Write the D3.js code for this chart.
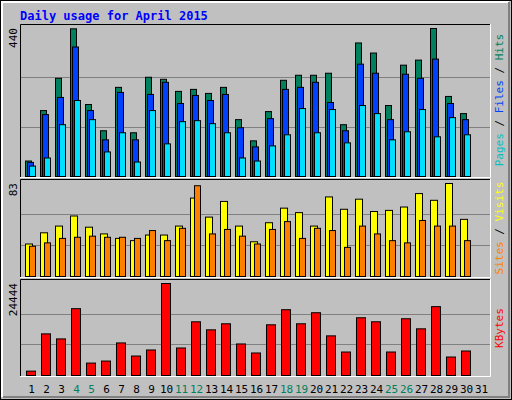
<!DOCTYPE html>
<html><head><meta charset="utf-8">
<script src="https://cdn.jsdelivr.net/npm/d3@7"></script>
<style>body{margin:0;background:#fff}svg text{font-family:"DejaVu Sans Mono",monospace}</style>
</head><body><svg id="c" width="512" height="400"></svg>
<script>
const days = d3.range(1, 32);
const weekend = [4, 5, 11, 12, 18, 19, 25, 26];
const hits = [46,196,292,439,214,136,265,130,295,289,253,259,247,265,169,106,193,286,301,301,307,154,397,367,211,331,346,440,238,187];
const files = [42,184,235,385,196,109,250,109,244,280,217,241,226,244,145,88,172,259,265,280,220,136,334,307,169,304,292,349,217,169];
const pages = [31,55,154,226,169,73,130,43,196,97,163,166,157,130,55,46,91,124,202,130,199,100,211,187,109,133,199,118,175,124];
const visits = [29,39,45,54,44,38,34,32,37,37,45,70,53,67,45,31,48,61,57,45,71,60,69,58,59,62,74,68,83,51];
const sites = [27,30,34,35,36,35,35,34,41,32,43,81,38,42,36,29,42,49,34,43,41,26,45,38,32,30,50,45,45,32];
const kbytes = [1160,11060,9720,17750,3300,3840,8650,5170,6780,24444,7310,14270,12130,13740,8380,5980,13470,17480,13740,16680,10530,6240,15340,14270,6240,15080,12400,18290,4910,6510];

const svg = d3.select('#c');
// frame with bevel
svg.append('rect').attr('x',0.5).attr('y',0.5).attr('width',511).attr('height',399).attr('fill','#c0c0c0').attr('stroke','#000');
svg.append('path').attr('d','M2,397V2H509').attr('stroke','#fff').attr('stroke-width',2).attr('fill','none');
svg.append('path').attr('d','M3,397H509V2').attr('stroke','#808080').attr('stroke-width',2).attr('fill','none');

svg.append('text').attr('x',20).attr('y',20).attr('fill','#0000ff').attr('font-size',12).attr('font-weight','bold')
  .text('Daily usage for April 2015');

const x = d3.scaleBand().domain(days).range([22, 487]).paddingInner(0);
const L = 20, R = 491;

function panel(y0, y1, max, label) {
  svg.append('rect').attr('x',L).attr('y',y0).attr('width',R-L).attr('height',y1-y0).attr('fill','#c0c0c0');
  const y = d3.scaleLinear().domain([0, max]).range([y1 - 1, y0 + 4]);
  [max/3, 2*max/3].forEach(v => svg.append('line').attr('x1',L).attr('x2',R).attr('y1',Math.round(y(v))+0.5).attr('y2',Math.round(y(v))+0.5).attr('stroke','#808080'));
  svg.append('path').attr('d',`M${L+0.5},${y1}V${y0+0.5}H${R}`).attr('stroke','#000').attr('fill','none');
  svg.append('path').attr('d',`M${L},${y1+0.5}H${R-0.5}V${y0}`).attr('stroke','#fff').attr('fill','none');
  svg.append('text').attr('transform',`translate(17,${y0+4}) rotate(-90)`).attr('text-anchor','end')
    .attr('font-size',11).attr('fill','#000').text(label);
  return y;
}

function bars(data, y, off, w, color) {
  svg.append('g').selectAll('rect').data(data).join('rect')
    .attr('x',(d,i)=>x(i+1)+off+0.5).attr('width',w).attr('y',d=>y(d)+0.5)
    .attr('height',d=>Math.max(0,y(0)-y(d))).attr('fill',color).attr('stroke','#000');
}

function sideLabel(parts, yMid) {
  const t = svg.append('text').attr('transform',`translate(503,${yMid}) rotate(-90)`).attr('text-anchor','middle').attr('font-size',11);
  parts.forEach(p => t.append('tspan').attr('fill',p[1]).text(p[0]));
}

const y1 = panel(24, 177, 440, '440');
bars(hits, y1, 3, 6, '#00805c');
bars(files, y1, 5, 6, '#0040ff');
bars(pages, y1, 7, 6, '#00e0ff');
sideLabel([['Pages','#00c0c0'],[' / ','#000'],['Files','#0040ff'],[' / ','#000'],['Hits','#00805c']], 100);

const y2 = panel(179, 277, 83, '83');
bars(visits, y2, 3, 7, '#ffff00');
bars(sites, y2, 7, 6, '#ff8000');
sideLabel([['Sites','#ff8000'],[' / ','#000'],['Visits','#ffff00']], 228);

const y3 = panel(279, 376, 24444, '24444');
bars(kbytes, y3, 4, 9, '#ff0000');
sideLabel([['KBytes','#ff0000']], 328);

svg.append('g').selectAll('text').data(days).join('text')
  .attr('x',d=>x(d)+x.bandwidth()/2+2).attr('y',393).attr('text-anchor','middle').attr('font-size',11)
  .attr('fill',d=>weekend.includes(d)?'#00805c':'#000').text(d=>d);
</script></body></html>
